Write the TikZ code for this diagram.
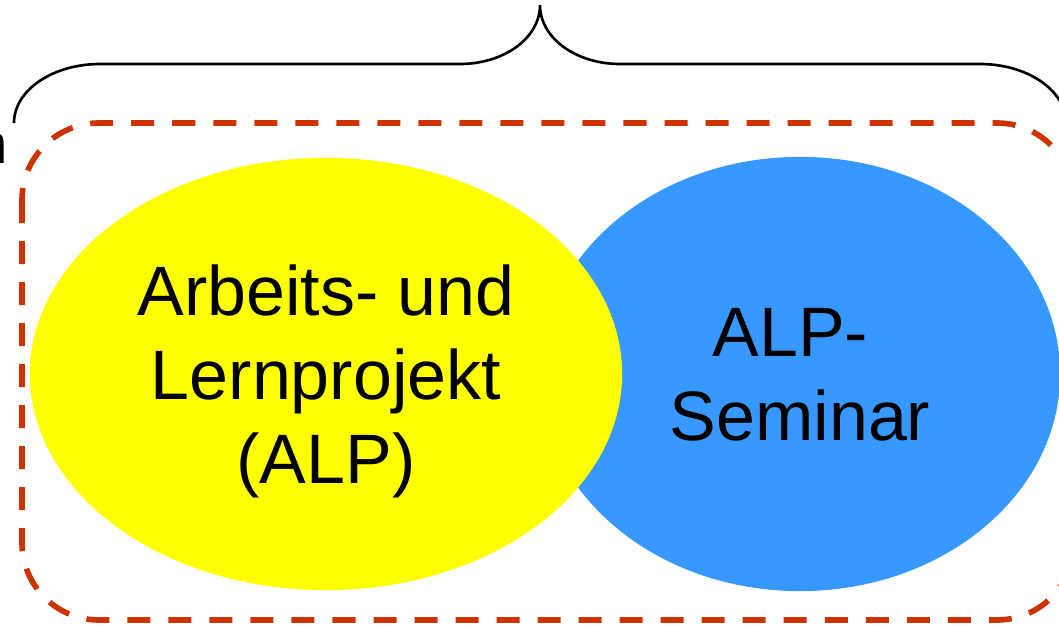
\documentclass[tikz,border=0pt]{standalone}
\usepackage{fontspec}
\setmainfont{Liberation Sans}
\usepackage{tikz}
\usetikzlibrary{shapes.geometric}
\definecolor{alpyellow}{HTML}{FFFF00}
\definecolor{seminarblue}{HTML}{3799FF}
\definecolor{frameorange}{HTML}{CC3300}
\tikzset{
every picture/.style={
x=0.01cm, y=-0.01cm
},
bubble/.style={
ellipse, inner sep=0pt, align=center, text depth=0pt,
font=\fontsize{19.9}{23.9}\selectfont
},
framebox/.style={
draw=frameorange, line width=1.6pt,
dash pattern=on 0.23cm off 0.18cm, rounded corners=0.77cm
},
bracket/.style={
line width=0.75pt
}}

\begin{document}
\begin{tikzpicture}
  \useasboundingbox (0,0) rectangle (1059,627);
  % the two parts
  \node[bubble, fill=seminarblue, minimum width=5.2cm, minimum height=4.34cm] (seminar) at (800,374) {ALP-\hspace*{0.19cm}\\Seminar};
  \node[bubble, fill=alpyellow, minimum width=5.92cm, minimum height=4.32cm] (alp) at (326,374) {Arbeits- und\\Lernprojekt\\(ALP)};
  % frame round both
  \draw[framebox] (22,123) rectangle (1074,620);
  % brace over the frame
  \draw[bracket] (14,123) .. controls (14,90) and (53,64) .. (100,64) -- (460,64)
    .. controls (504,64) and (540,38) .. (540,5)
    .. controls (540,38) and (576,64) .. (620,64) -- (980,64)
    .. controls (1027,64) and (1066,90) .. (1066,123);
  % text cut off at the left edge
  \node[anchor=base east, inner sep=0pt, font=\fontsize{16}{19}\selectfont] (cut) at (8,163) {n};
\end{tikzpicture}
\end{document}
